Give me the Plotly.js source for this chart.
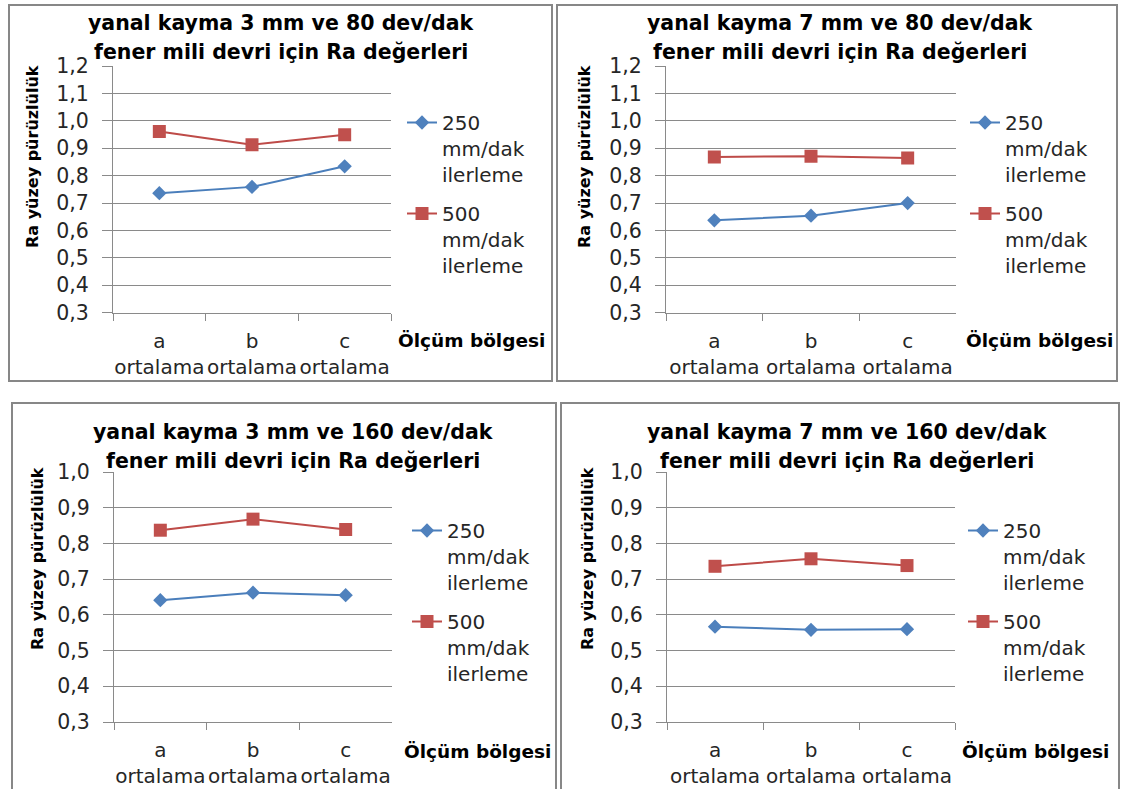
<!DOCTYPE html>
<html>
<head>
<meta charset="utf-8">
<script src="https://cdn.plot.ly/plotly-3.0.1.min.js"></script>
<style>html,body{margin:0;padding:0;background:#fff;} #chart{width:1122px;height:789px;}</style>
</head>
<body>
<div id="chart"></div>
<script>
// ---- data ----
const categories = ['a', 'b', 'c'];
const categoryLabels = ['a<br>ortalama', 'b<br>ortalama', 'c<br>ortalama'];
const seriesNames = ['250<br>mm/dak<br>ilerleme', '500<br>mm/dak<br>ilerleme'];
const panelTitles1 = ['yanal kayma 3 mm ve 80 dev/dak', 'yanal kayma 7 mm ve 80 dev/dak', 'yanal kayma 3 mm ve 160 dev/dak', 'yanal kayma 7 mm ve 160 dev/dak'];
const panelTitles2 = ['fener mili devri için Ra değerleri', 'fener mili devri için Ra değerleri', 'fener mili devri için Ra değerleri', 'fener mili devri için Ra değerleri'];
const yTitle = 'Ra yüzey pürüzlülük';
const xTitle = 'Ölçüm bölgesi';

const p1_250 = [0.736, 0.759, 0.834];
const p1_500 = [0.961, 0.913, 0.949];
const p2_250 = [0.637, 0.654, 0.700];
const p2_500 = [0.868, 0.871, 0.864];
const p3_250 = [0.641, 0.662, 0.655];
const p3_500 = [0.837, 0.868, 0.839];
const p4_250 = [0.567, 0.558, 0.560];
const p4_500 = [0.736, 0.757, 0.738];

const yRangeTop = [0.3, 1.2];
const yRangeBottom = [0.3, 1.0];

// ---- layout helpers ----
const W = 1122, H = 789;
const fx = p => p / W;
const fy = p => 1 - p / H;

const series250 = [p1_250, p2_250, p3_250, p4_250];
const series500 = [p1_500, p2_500, p3_500, p4_500];

const panels = [
  {xd:[113,391], yd:[66,312.7], yr:yRangeTop, border:[9,5,552,381], title:281, t1:23, t2:52, ytx:33, yty:157, ox:471, oy:340, lx:402, ly:103},
  {xd:[666,956], yd:[66,312.7], yr:yRangeTop, border:[557,5,1117,381], title:840, t1:23, t2:52, ytx:585, yty:157, ox:1039, oy:340, lx:965, ly:103},
  {xd:[114,392], yd:[472,722], yr:yRangeBottom, border:[12,403,556,800], title:293, t1:432, t2:461, ytx:37, yty:559, ox:477, oy:751, lx:407, ly:511},
  {xd:[667,955], yd:[472,722], yr:yRangeBottom, border:[561,403,1119,800], title:847, t1:432, t2:461, ytx:587, yty:559, ox:1035, oy:751, lx:963, ly:511}
];

const gridCol = '#8a8a8a';
const textCol = '#262626';
const blue = '#4A7EBB', blueM = '#4F81BD';
const red = '#BE4B48', redM = '#C0504D';

const data = [];
const layout = {
  width: W, height: H,
  margin: {l:0, r:0, t:0, b:0, pad:0},
  paper_bgcolor: '#fff', plot_bgcolor: '#fff',
  separators: ', ',
  showlegend: true,
  hovermode: false,
  annotations: [],
  shapes: []
};

panels.forEach((p, i) => {
  const n = i === 0 ? '' : String(i + 1);
  const legName = i === 0 ? 'legend' : 'legend' + n;
  data.push({
    x: categories, y: series250[i], type: 'scatter', mode: 'lines+markers',
    xaxis: 'x' + n, yaxis: 'y' + n, name: seriesNames[0], legend: legName, legendgroup: 'g250_' + i,
    line: {color: blue, width: 2},
    marker: {symbol: 'diamond', size: 11, color: blueM}
  });
  data.push({
    x: categories, y: series500[i], type: 'scatter', mode: 'lines+markers',
    xaxis: 'x' + n, yaxis: 'y' + n, name: seriesNames[1], legend: legName, legendgroup: 'g500_' + i,
    line: {color: red, width: 2},
    marker: {symbol: 'square', size: 13, color: redM}
  });
  layout['xaxis' + n] = {
    domain: [fx(p.xd[0]), fx(p.xd[1])],
    anchor: 'y' + n,
    type: 'category',
    range: [-0.5, 2.5],
    tickvals: categories, ticktext: categoryLabels,
    tickson: 'boundaries',
    ticks: 'outside', ticklen: 7, tickcolor: gridCol, tickwidth: 1,
    showline: true, linecolor: gridCol, linewidth: 1,
    showgrid: false, zeroline: false, tickangle: 0,
    ticklabelstandoff: 10,
    tickfont: {family: 'DejaVu Sans', size: 20, color: textCol},
    fixedrange: true
  };
  layout['yaxis' + n] = {
    domain: [fy(p.yd[1]), fy(p.yd[0])],
    anchor: 'x' + n,
    range: p.yr, dtick: 0.1, tick0: 0.3, tickformat: '.1f',
    ticks: 'outside', ticklen: 10, tickcolor: gridCol, tickwidth: 1,
    showline: true, linecolor: gridCol, linewidth: 1,
    showgrid: true, gridcolor: gridCol, gridwidth: 1, zeroline: false,
    ticklabelstandoff: 9,
    tickfont: {family: 'DejaVu Sans', size: 20.5, color: textCol},
    fixedrange: true
  };
  layout[legName] = {
    x: fx(p.lx), y: fy(p.ly), xanchor: 'left', yanchor: 'top',
    xref: 'paper', yref: 'paper',
    bgcolor: 'rgba(0,0,0,0)', borderwidth: 0,
    font: {family: 'DejaVu Sans', size: 20, color: textCol},
    valign: 'top', traceorder: 'grouped', tracegroupgap: 10
  };
  // border
  layout.shapes.push({type: 'rect', xref: 'paper', yref: 'paper',
    x0: fx(p.border[0]), y0: fy(p.border[1]), x1: fx(p.border[2]), y1: fy(p.border[3]),
    line: {color: '#878787', width: 2}, fillcolor: 'rgba(0,0,0,0)', layer: 'below'});
  // titles
  const tf = {family: 'DejaVu Sans', size: 20.5, color: '#000'};
  layout.annotations.push({xref:'paper', yref:'paper', x: fx(p.title), y: fy(p.t1), text: '<b>' + panelTitles1[i] + '</b>', showarrow: false, xanchor: 'center', yanchor: 'middle', font: tf});
  layout.annotations.push({xref:'paper', yref:'paper', x: fx(p.title), y: fy(p.t2), text: '<b>' + panelTitles2[i] + '</b>', showarrow: false, xanchor: 'center', yanchor: 'middle', font: tf});
  // y title
  layout.annotations.push({xref:'paper', yref:'paper', x: fx(p.ytx), y: fy(p.yty), text: '<b>' + yTitle + '</b>', textangle: -90, showarrow: false, xanchor: 'center', yanchor: 'middle', font: {family: 'DejaVu Sans', size: 16, color: '#000'}});
  // x title
  layout.annotations.push({xref:'paper', yref:'paper', x: fx(p.ox), y: fy(p.oy), text: '<b>' + xTitle + '</b>', showarrow: false, xanchor: 'center', yanchor: 'middle', font: {family: 'DejaVu Sans', size: 18.5, color: '#000'}});
});

Plotly.newPlot('chart', data, layout, {staticPlot: true, displayModeBar: false});
</script>
</body>
</html>
